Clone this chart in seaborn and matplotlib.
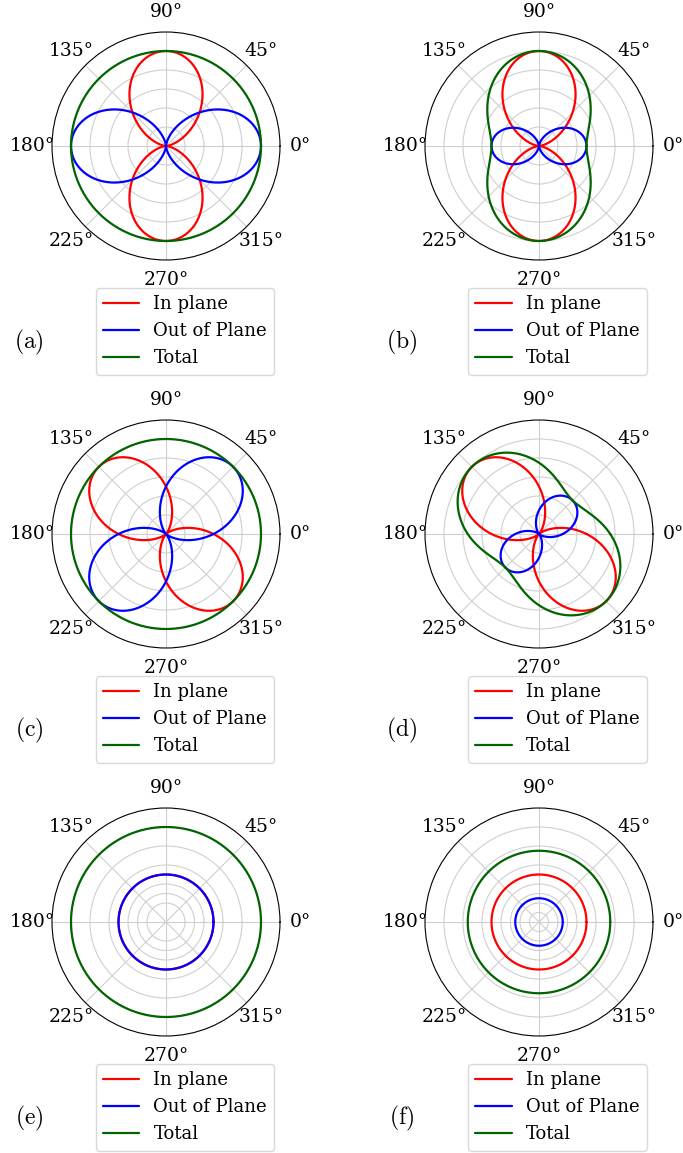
import numpy as np
import pandas as pd
import matplotlib
matplotlib.use("Agg")
import matplotlib.pyplot as plt
import seaborn as sns
from matplotlib.lines import Line2D

# ---- data (per panel) ----
panel_labels = ["(a)", "(b)", "(c)", "(d)", "(e)", "(f)"]
# in-plane component: anisotropic amplitude, lobe orientation (deg), isotropic level
inplane_amp = [1.0, 1.0, 1.0, 1.0, 0.0, 0.0]
inplane_dir = [90, 90, 135, 135, 0, 0]
inplane_iso = [0.0, 0.0, 0.0, 0.0, 0.5, 0.5]
# out-of-plane component
outplane_amp = [1.0, 0.5, 1.0, 0.5, 0.0, 0.0]
outplane_dir = [0, 0, 45, 45, 0, 0]
outplane_iso = [0.0, 0.0, 0.0, 0.0, 0.5, 0.25]
series_names = ["In plane", "Out of Plane", "Total"]
theta_tick_labels = ["0°", "45°", "90°", "135°", "180°", "225°", "270°", "315°"]
radial_grid = [
    [0.2, 0.4, 0.6, 0.8, 1.0],
    [0.2, 0.4, 0.6, 0.8, 1.0],
    [0.2, 0.4, 0.6, 0.8, 1.0],
    [0.2, 0.4, 0.6, 0.8, 1.0],
    [0.2, 0.3, 0.4, 0.6, 0.8, 1.0],
    [0.1, 0.2, 0.3, 0.4, 0.6, 0.8, 1.0],
]
r_max = 1.2

colors = {"In plane": "#ff0000", "Out of Plane": "#0000ff", "Total": "#006400"}

sns.set_style("white")
plt.rcParams["font.family"] = ["DejaVu Serif"]
plt.rcParams["mathtext.fontset"] = "cm"
plt.rcParams["text.color"] = "black"
plt.rcParams["xtick.color"] = "black"
plt.rcParams["ytick.color"] = "black"
plt.rcParams["legend.edgecolor"] = "#d0d0d0"

W, H = 683, 1153
fig = plt.figure(figsize=(W / 100, H / 100), dpi=100)

theta = np.linspace(0, 2 * np.pi, 721)

centers_x = [166, 539]
centers_y = [146, 534, 922]
R = 114

for i in range(6):
    row, col = divmod(i, 2)
    cx, cy = centers_x[col], centers_y[row]
    ax = fig.add_axes([(cx - R) / W, (H - cy - R) / H, 2 * R / W, 2 * R / H],
                      projection="polar")
    red = inplane_amp[i] * np.cos(theta - np.deg2rad(inplane_dir[i])) ** 2 + inplane_iso[i]
    blue = outplane_amp[i] * np.cos(theta - np.deg2rad(outplane_dir[i])) ** 2 + outplane_iso[i]
    total = red + blue
    df = pd.DataFrame({"theta": np.concatenate([theta] * 3),
                       "r": np.concatenate([red, blue, total]),
                       "series": np.repeat(series_names, len(theta))})
    for name in series_names:
        sub = df[df["series"] == name]
        sns.lineplot(data=sub, x="theta", y="r", ax=ax, color=colors[name],
                     lw=1.6, sort=False, estimator=None, legend=False)
    ax.set_xlabel("")
    ax.set_ylabel("")
    ax.set_rlim(0, r_max)
    ax.set_rticks(radial_grid[i])
    ax.set_yticklabels([])
    ax.set_xticks(np.deg2rad(np.arange(0, 360, 45)))
    ax.set_xticklabels(theta_tick_labels, fontsize=13.5, color="black")
    ax.tick_params(axis="x", pad=4)
    ax.grid(True, color="#cfcfcf", lw=0.8)
    ax.spines["polar"].set_color("black")
    ax.spines["polar"].set_linewidth(0.8)

    handles = [Line2D([], [], color=colors[n], lw=1.6) for n in series_names]
    lx = [185, 557.5][col]
    ly = [288, 676, 1064][row]
    leg = fig.legend(handles, series_names, loc="upper center",
                     bbox_to_anchor=(lx / W, 1 - ly / H), fontsize=13,
                     borderaxespad=0, frameon=True)
    for t in leg.get_texts():
        t.set_color("black")
    tx = [29, 402][col]
    ty = [342, 730, 1118][row]
    fig.text(tx / W, 1 - ty / H, r"$\mathrm{" + panel_labels[i] + "}$",
             fontsize=17, ha="center", va="center", color="black")

fig.savefig("out.png", dpi=100)
